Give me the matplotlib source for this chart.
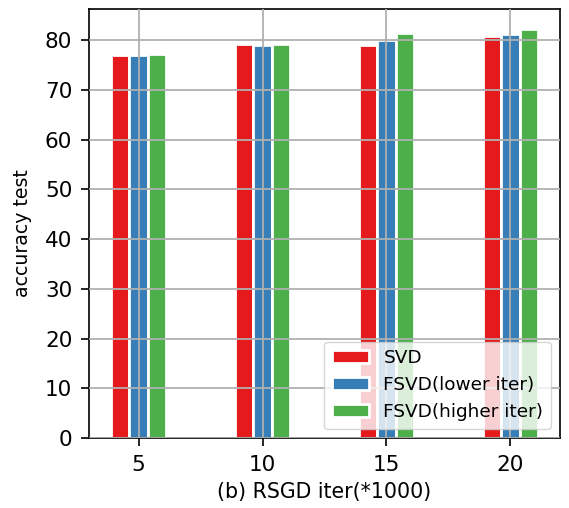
import matplotlib.pyplot as plt
import numpy as np

iters = [5, 10, 15, 20]
svd = [77.0, 79.2, 79.1, 80.9]
fsvd_lower = [77.0, 79.0, 80.1, 81.3]
fsvd_higher = [77.2, 79.2, 81.45, 82.25]

labels = ['SVD', 'FSVD(lower iter)', 'FSVD(higher iter)']
colors = ['#e41a1c', '#377eb8', '#4daf4a']

fig = plt.figure(figsize=(5.69, 5.08), dpi=100)
ax = fig.add_axes([89 / 569, 1 - 438 / 508, (560 - 89) / 569, (438 - 9) / 508])

x = np.array(iters, dtype=float)
w = 0.75
for i, (vals, lab, c) in enumerate(zip([svd, fsvd_lower, fsvd_higher], labels, colors)):
    ax.bar(x + (i - 1) * w, vals, width=w, color=c, edgecolor='white', linewidth=2, label=lab)

ax.set_xlim(3, 22)
ax.set_ylim(0, 86.3)
ax.set_xticks(iters)
ax.set_yticks(range(0, 81, 10))
ax.set_axisbelow(False)
ax.grid(True, color='#b0b0b0', linewidth=1.3)
ax.tick_params(length=5.5, width=1.2, pad=6.5, labelsize=15.5)
for s in ax.spines.values():
    s.set_linewidth(1.2)

ax.set_xlabel('(b) RSGD iter(*1000)', fontsize=14.8, labelpad=5)
ax.set_ylabel('accuracy test', fontsize=13.6)
ax.yaxis.set_label_coords(-0.121, 0.478)
ax.legend(loc='lower right', fontsize=13.3)

fig.savefig('out.png', dpi=100)
